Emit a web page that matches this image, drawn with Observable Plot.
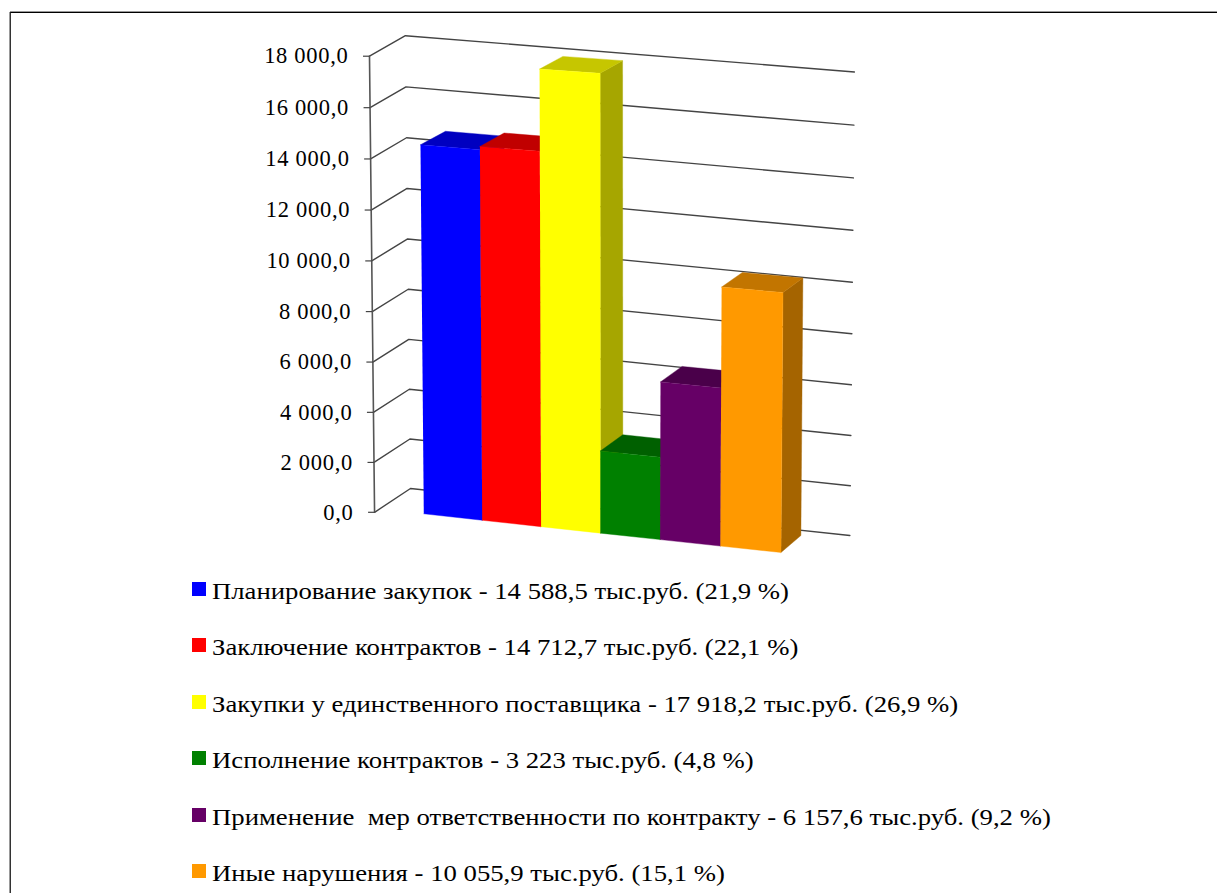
<!DOCTYPE html>
<html lang="ru">
<head>
<meta charset="utf-8">
<script src="https://cdn.jsdelivr.net/npm/d3@7"></script>
<script src="https://cdn.jsdelivr.net/npm/@observablehq/plot@0.6"></script>
<style>
html,body{margin:0;padding:0;background:#fff;overflow:hidden}
#page{position:relative;width:1217px;height:893px;overflow:hidden;font-family:"Liberation Serif",serif;color:#000}
#frame{position:absolute;left:10px;top:12px;right:-5px;bottom:-5px;border-left:1.5px solid #333;border-top:1px solid #000;box-shadow:0 -1px 0 #999,-1px 0 0 #999;pointer-events:none}
#chart svg{display:block}
.row{height:56.4px;position:relative;white-space:pre}
.sw{position:absolute;left:192px;top:19px;width:14px;height:14px}
.tx{position:absolute;left:212px;top:0;line-height:56.4px;font-size:24px;transform-origin:0 50%;transform:scaleX(1.113)}
</style>
</head>
<body>
<div id="page">
<div id="chart"></div>
<div id="legend"></div>
<div id="frame"></div>
</div>
<script>
const categories = ["Планирование закупок","Заключение контрактов","Закупки у единственного поставщика","Исполнение контрактов","Применение  мер ответственности по контракту","Иные нарушения"];
const values = [14588.5,14712.7,17918.2,3223,6157.6,10055.9];
const valueLabels = ["14 588,5","14 712,7","17 918,2","3 223","6 157,6","10 055,9"];
const percents = ["21,9","22,1","26,9","4,8","9,2","15,1"];
const frontColors = ["#0000ff","#ff0000","#ffff00","#008000","#660066","#ff9900"];
const topColors = ["#0000c0","#c00000","#c6c600","#006000","#4a004a","#c27500"];
const sideColors = ["#0000a0","#a00000","#a6a600","#005000","#3d003d","#a56400"];
const ticks = [0,2000,4000,6000,8000,10000,12000,14000,16000,18000];
const tickLabels = ["0,0","2 000,0","4 000,0","6 000,0","8 000,0","10 000,0","12 000,0","14 000,0","16 000,0","18 000,0"];

// oblique view of the 3-D box: u = category position, d = depth, v = value.
const MAX = 18000, xUnit = 59.6, yUnit = 455.3 / MAX;
const uL = -0.76, uR = 6.75, dF = -0.2, dB = 1.2;
function view(u, d, v, wall = false) {
  const V = v / MAX;
  const dx = 25 - 0.85 * u, dy = -17 + 4.3 * V;
  const px = -1.4 * u + 0.222 * u * u + V * (-4.1 + 1.28 * u) + d * dx;
  let py = 6.45 * u - V * (u + 1.2 * u * V) + d * dy;
  if (wall) {
    const along = (u - uL) / (uR - uL), back = (d - dF) / (dB - dF);
    py += 9 * V * (1 - V) - V * (1.6 + 2.7 * back) * (1 - along) - 1.4 * (1 - V) * along;
  }
  return {x: u + px / xUnit, y: v - py / yUnit};
}

const faces = [];
values.forEach((v, i) => {
  const add = (name, color, pts) => pts.forEach(([u, d, w]) => faces.push({id: i + name, color, ...view(u, d, w)}));
  add("side", sideColors[i], [[i+1,0,0],[i+1,1,0],[i+1,1,v],[i+1,0,v]]);
  add("top", topColors[i], [[i,0,v],[i,1,v],[i+1,1,v],[i+1,0,v]]);
  add("front", frontColors[i], [[i,0,0],[i+1,0,0],[i+1,0,v],[i,0,v]]);
});

const grid = ticks.flatMap(t => [[uL,dF],[uL,dB],[uR,dB]].map(([u,d]) => ({t, ...view(u,d,t,true)})));
const axisPts = ticks.map((t, k) => ({t, label: tickLabels[k], ...view(uL,dF,t,true)}));

const plot = Plot.plot({
  width: 1217, height: 563, margin: 0,
  x: {domain: [0,1], range: [423.3, 482.9], axis: null},
  y: {domain: [0,MAX], range: [513.3, 58], axis: null},
  color: {type: "identity"},
  style: {background: "transparent", fontFamily: "'Liberation Serif',serif", overflow: "visible"},
  marks: [
    Plot.line(grid, {x:"x", y:"y", z:"t", stroke:"#444", strokeWidth:1.4}),
    Plot.line(axisPts, {x:"x", y:"y", stroke:"#555", strokeWidth:1.6}),
    Plot.link(axisPts, {x1:d => d.x - 6.5/xUnit, x2:"x", y1:"y", y2:"y", stroke:"#444", strokeWidth:1.2}),
    Plot.line(faces, {x:"x", y:"y", z:"id", fill:"color", stroke:"color", strokeWidth:0.4}),
    Plot.text(axisPts, {x:"x", y:"y", text:"label", textAnchor:"end", dx:-21, fontSize:22.5, fill:"#000"})
  ]
});
plot.querySelectorAll("text").forEach(t => t.style.letterSpacing = "0.7px");
document.getElementById("chart").append(plot);

const legend = document.getElementById("legend");
categories.forEach((c, i) => {
  const r = document.createElement("div"); r.className = "row";
  const s = document.createElement("div"); s.className = "sw"; s.style.background = frontColors[i];
  const t = document.createElement("div"); t.className = "tx";
  t.textContent = `${c} - ${valueLabels[i]} тыс.руб. (${percents[i]} %)`;
  r.append(s, t); legend.append(r);
});
</script>
</body>
</html>
